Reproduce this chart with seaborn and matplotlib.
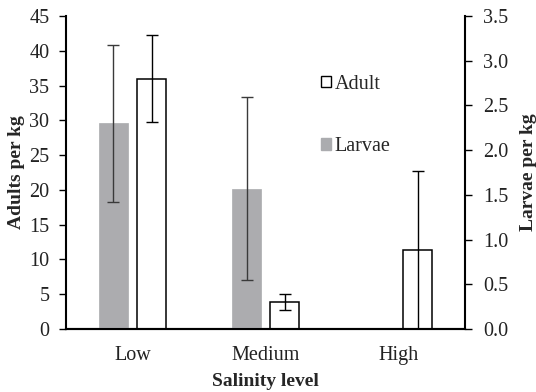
import matplotlib
matplotlib.use("Agg")
import matplotlib.pyplot as plt
import seaborn as sns
import pandas as pd
import numpy as np
from matplotlib.patches import Patch

salinity = ["Low", "Medium", "High"]
adult_mean = [36.0, 3.8, 11.3]
adult_err = [6.3, 1.15, 11.4]
larvae_mean = [2.30, 1.57, 0.0]
larvae_err = [0.88, 1.02, 0.0]
series = ["Larvae", "Adult"]

sns.set_theme(style="white")
plt.rcParams["font.family"] = ["Liberation Serif", "DejaVu Serif"]
FS = 14.5

gray = "#ABACAF"
errc = "#3A3A3A"

adf = pd.DataFrame({"Salinity": salinity * 2,
                    "Series": ["Larvae"] * 3 + ["Adult"] * 3,
                    "Value": [np.nan] * 3 + adult_mean})
ldf = pd.DataFrame({"Salinity": salinity * 2,
                    "Series": ["Larvae"] * 3 + ["Adult"] * 3,
                    "Value": larvae_mean + [np.nan] * 3})

fig = plt.figure(figsize=(5.36, 3.92), dpi=100)
ax = fig.add_axes([0.123, 0.161, 0.745, 0.798])
ax2 = ax.twinx()

sns.barplot(data=adf, x="Salinity", y="Value", hue="Series", hue_order=series,
            order=salinity, palette={"Larvae": gray, "Adult": "white"},
            width=0.572, gap=0.23, errorbar=None, ax=ax, legend=False,
            edgecolor="black", linewidth=1.1)
sns.barplot(data=ldf, x="Salinity", y="Value", hue="Series", hue_order=series,
            order=salinity, palette={"Larvae": gray, "Adult": "white"},
            width=0.572, gap=0.23, errorbar=None, ax=ax2, legend=False,
            edgecolor=gray, linewidth=0.5)

pos = np.arange(len(salinity))
off = 0.572 / 4
ax.errorbar(pos + off, adult_mean, yerr=adult_err, fmt="none", ecolor="black",
            elinewidth=1.0, capsize=4.5, capthick=1.0, zorder=5)
lm = np.array(larvae_mean)
le = np.array(larvae_err)
mask = le > 0
ax2.errorbar((pos - off)[mask], lm[mask], yerr=le[mask], fmt="none", ecolor=errc,
             elinewidth=1.0, capsize=4.5, capthick=1.0, zorder=5)

ax.set_xlim(-0.5, 2.5)
ax.set_ylim(0, 45)
ax2.set_ylim(0, 3.5)
ax.set_yticks(np.arange(0, 46, 5))
ax2.set_yticks(np.arange(0, 3.51, 0.5))
ax2.set_yticklabels([f"{v:.1f}" for v in np.arange(0, 3.51, 0.5)])

for a in (ax, ax2):
    for s in ("left", "right", "bottom"):
        a.spines[s].set_visible(True)
        a.spines[s].set_color("black")
        a.spines[s].set_linewidth(1.5)
    a.spines["top"].set_visible(False)
    a.grid(False)
ax.spines["right"].set_visible(False)
ax2.spines["left"].set_visible(False)
ax2.set_facecolor("none")

ax.tick_params(axis="y", direction="out", length=5, width=1, colors="black",
               labelsize=FS, pad=7, left=True)
ax.tick_params(axis="x", length=0, labelsize=FS, pad=12, colors="black")
ax2.tick_params(axis="y", direction="out", length=5, width=1, colors="black",
                labelsize=FS, pad=8, right=True)
for t in ax.get_yticklabels() + ax2.get_yticklabels() + ax.get_xticklabels():
    t.set_color("#222222")

ax.set_xlabel("Salinity level", fontsize=14, fontweight="bold", labelpad=6)
ax.set_ylabel("Adults per kg", fontsize=14, fontweight="bold", labelpad=3)
ax2.set_ylabel("Larvae per kg", fontsize=14, fontweight="bold", labelpad=8)

handles = [Patch(facecolor="white", edgecolor="black", linewidth=1.0),
           Patch(facecolor=gray, edgecolor=gray)]
ax2.legend(handles, ["Adult", "Larvae"], loc="upper left",
           bbox_to_anchor=(0.618, 0.838), frameon=False, fontsize=FS,
           handlelength=0.5, handleheight=0.5, handletextpad=0.2,
           labelspacing=2.15, borderaxespad=0)

fig.savefig("out.png", dpi=100)
